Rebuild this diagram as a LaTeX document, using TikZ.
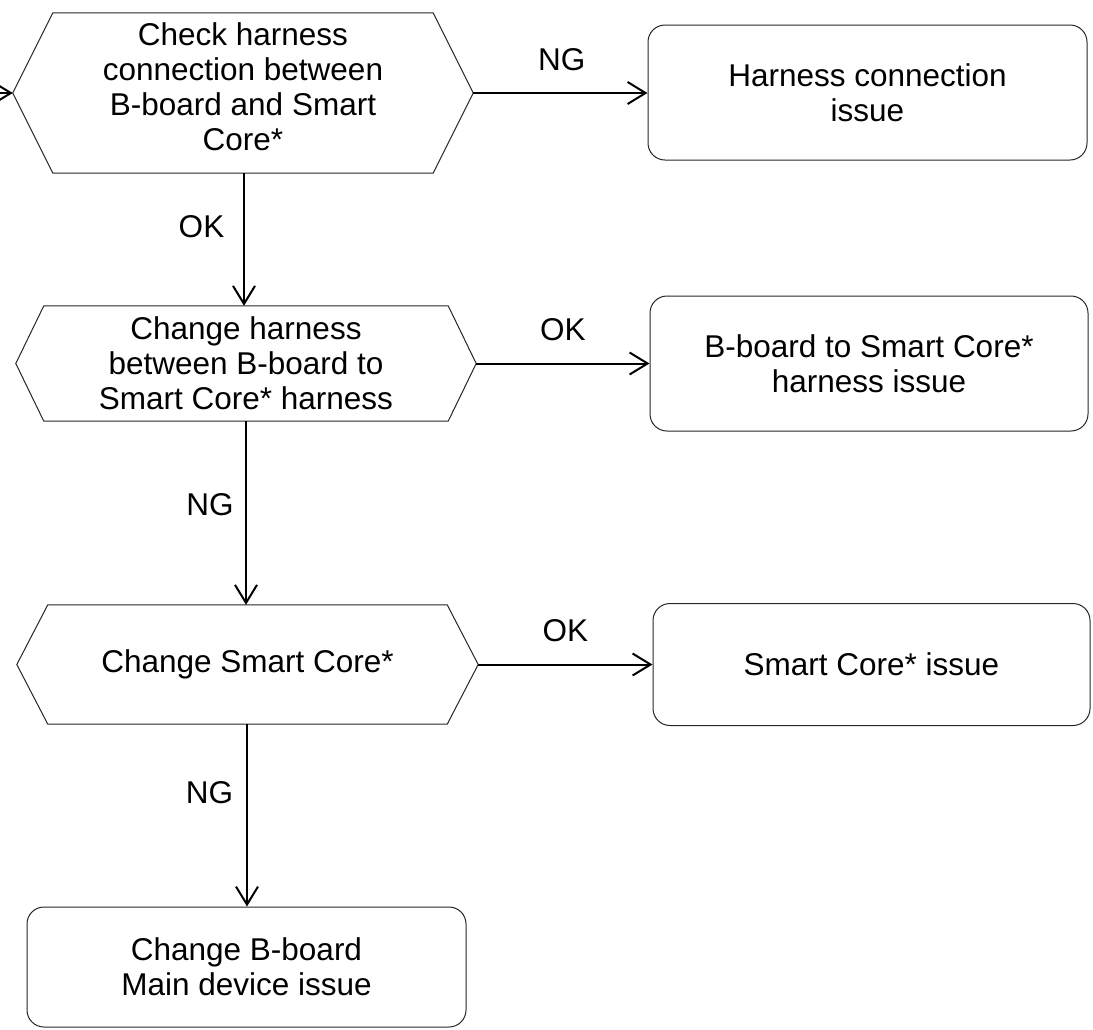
\documentclass[tikz,border=0pt]{standalone}
\usepackage{fontspec}
\setmainfont{Liberation Sans}
\usetikzlibrary{arrows.meta}
\tikzset{
  every node/.style={font=\fontsize{31.5}{35}\selectfont},
  hexnode/.style={align=center, inner sep=0pt, draw=none},
  outline/.style={line width=1pt, draw=black!85},
  result/.style={draw=black!85, line width=1pt, rounded corners=17pt, align=center, inner sep=0pt},
  conn/.style={line width=2pt, -{Straight Barb[length=18pt, width=22pt, line width=2pt]}},
  lbl/.style={inner sep=0pt}
}
\newcommand\drawhexa[2]{%
  \draw[outline] (#1.west) -- ([xshift=#2]#1.north west) -- ([xshift=-#2]#1.north east)
    -- (#1.east) -- ([xshift=-#2]#1.south east) -- ([xshift=#2]#1.south west) -- cycle;}
\begin{document}
\begin{tikzpicture}[x=1pt, y=-1pt]
\useasboundingbox (0,0) rectangle (1093,1029);
% decision hexagons
\node[hexnode, minimum width=460pt, minimum height=160pt,
  label={[align=center, inner sep=0pt, yshift=6pt]center:{Check harness\\connection between\\B-board and Smart\\Core*}}] (h1) at (243,93) {};
\drawhexa{h1}{40pt}
\node[hexnode, minimum width=460pt, minimum height=115pt] (h2) at (246,363.5)
  {Change harness\\between B-board to\\Smart Core* harness};
\drawhexa{h2}{28pt}
\node[hexnode, minimum width=461pt, minimum height=119pt] (h3) at (247.5,664.5)
  {Change Smart Core*};
\drawhexa{h3}{31pt}
% result boxes
\node[result, minimum width=439pt, minimum height=135pt] (b1) at (867.5,92.5)
  {Harness connection\\issue};
\node[result, minimum width=438pt, minimum height=135pt] (b2) at (869,363.5)
  {B-board to Smart Core*\\harness issue};
\node[result, minimum width=437pt, minimum height=122pt] (b3) at (871.5,664.5)
  {Smart Core* issue};
\node[result, minimum width=439pt, minimum height=120pt] (b4) at (246.5,967)
  {Change B-board\\Main device issue};
% incoming
\coordinate (start) at (0,93);
\draw[conn] (start) -- (h1.west);
% horizontal connectors
\draw[conn] (h1.east) -- (h1.east -| b1.west) node[lbl, midway, yshift=33pt, xshift=1.5pt] (l1) {NG};
\draw[conn] (h2.east) -- (h2.east -| b2.west) node[lbl, midway, yshift=33.5pt] (l2) {OK};
\draw[conn] (h3.east) -- (h3.east -| b3.west) node[lbl, midway, yshift=33.5pt] (l3) {OK};
% vertical connectors
\draw[conn] ([xshift=1pt]h1.south) -- ([xshift=1pt]h1.south |- h2.north) node[lbl, midway, xshift=-42.5pt, yshift=12.5pt] (l4) {OK};
\draw[conn] (h2.south) -- (h2.south |- h3.north) node[lbl, midway, xshift=-36pt, yshift=8pt] (l5) {NG};
\draw[conn] ([xshift=-0.5pt]h3.south) -- ([xshift=-0.5pt]h3.south |- b4.north) node[lbl, midway, xshift=-37.5pt, yshift=22.5pt] (l6) {NG};
\end{tikzpicture}
\end{document}
